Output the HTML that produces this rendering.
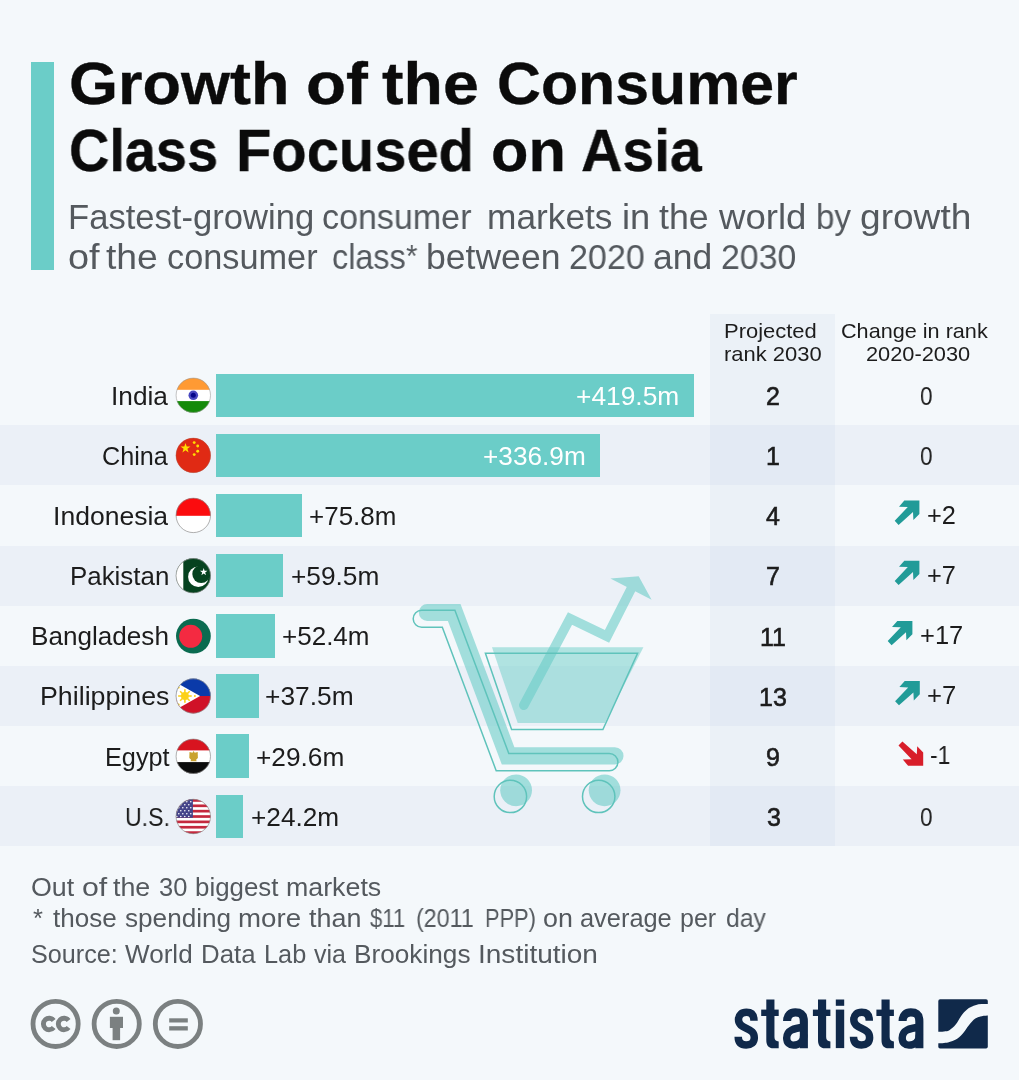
<!DOCTYPE html>
<html lang="en"><head><meta charset="utf-8">
<title>Growth of the Consumer Class Focused on Asia</title>
<style>
html,body{margin:0;padding:0}
body{width:1019px;height:1080px;background:#f4f8fb;position:relative;overflow:hidden;font-family:"Liberation Sans", sans-serif}
.t{position:absolute;white-space:nowrap;line-height:1;transform-origin:0 0;margin:0;will-change:transform}
.rk{color:#1c1c1c;-webkit-text-stroke:0.6px #1c1c1c}
.accent{position:absolute;left:30.5px;top:62px;width:23.5px;height:207.5px;background:#6bcdc8}
.band{position:absolute;left:0;width:1019px;height:60.14px;background:#ebf0f7}
.col{position:absolute;left:710.3px;top:314.4px;width:124.6px;height:532.1px;background:rgba(196,210,232,0.18)}
.bar{position:absolute;left:216px;height:43.3px;background:#6bcdc8}
svg{position:absolute;left:0;top:0}
</style></head><body>
<div class="accent"></div>
<div class="band" style="top:425.37px"></div>
<div class="band" style="top:545.65px"></div>
<div class="band" style="top:665.93px"></div>
<div class="band" style="top:786.21px"></div>
<div class="col"></div>
<div class="bar" style="top:373.65px;width:478.0px"></div>
<div class="bar" style="top:433.79px;width:383.8px"></div>
<div class="bar" style="top:493.93px;width:86.2px"></div>
<div class="bar" style="top:554.07px;width:67.4px"></div>
<div class="bar" style="top:614.21px;width:59.3px"></div>
<div class="bar" style="top:674.35px;width:42.5px"></div>
<div class="bar" style="top:734.49px;width:33.1px"></div>
<div class="bar" style="top:794.63px;width:26.9px"></div>
<svg width="1019" height="1080" viewBox="0 0 1019 1080">
<g id="cart">
<g opacity="0.5"><polygon points="492,647.3 643.4,647.3 604.8,723 517.7,723" fill="#6bcdc8"/></g>
<g opacity="0.6">
<path d="M427.3,604 L460.5,604 L514.4,747.3 L614.9,747.3 A8.6,8.6 0 0 1 614.9,764.5 L501.8,764.5 L447.9,621 L427.3,621 A8.5,8.5 0 0 1 427.3,604 Z" fill="#6bcdc8"/>
<circle cx="516.1" cy="790.3" r="15.9" fill="#6bcdc8"/>
<circle cx="604.6" cy="790.3" r="15.9" fill="#6bcdc8"/>
</g>
<g opacity="0.6">
<polyline points="523.8,705.2 570.0,618.5 607.0,636.4 631,589.1" fill="none" stroke="#6bcdc8" stroke-width="9.6" stroke-linecap="round" stroke-linejoin="miter"/>
<polygon points="610.4,578.5 638.7,576.3 651.6,599.7" fill="#6bcdc8"/>
</g>
<g fill="none" stroke="#5fc3bb" stroke-width="1.5">
<path transform="translate(-5.6,6.2)" d="M427.3,604 L460.5,604 L514.4,747.3 L614.9,747.3 A8.6,8.6 0 0 1 614.9,764.5 L501.8,764.5 L447.9,621 L427.3,621 A8.5,8.5 0 0 1 427.3,604 Z"/>
<polygon points="485.4,653.2 637.6,653.2 602.9,729.6 511.6,729.6"/>
<circle cx="510.4" cy="796.4" r="16.2"/>
<circle cx="598.7" cy="796.4" r="16.2"/>
</g>
</g>

<defs><clipPath id="fc"><circle cx="0" cy="0" r="17.4"/></clipPath></defs>
<g id="flags">
<!-- India -->
<g transform="translate(193.3,395.3)"><g clip-path="url(#fc)">
<rect x="-18" y="-18" width="36" height="36" fill="#ffffff"/>
<rect x="-18" y="-18" width="36" height="12.5" fill="#ff9a33"/>
<rect x="-18" y="5.8" width="36" height="12.5" fill="#148a0a"/>
<circle cx="0" cy="0" r="4.8" fill="#4a49c0"/><circle cx="0" cy="0" r="2.5" fill="#07078a"/>
</g><circle r="17.2" fill="none" stroke="#9a9a9a" stroke-width="0.6"/></g>
<!-- China -->
<g transform="translate(193.3,455.4)"><g clip-path="url(#fc)">
<rect x="-18" y="-18" width="36" height="36" fill="#e02a14"/>
<polygon fill="#ffde00" transform="translate(0.2,0.8)" points="-8.0,-13.2 -6.8,-9.6 -3.0,-9.6 -6.1,-7.4 -4.9,-3.8 -8.0,-6.0 -11.1,-3.8 -9.9,-7.4 -13.0,-9.6 -9.2,-9.6"/>
<circle cx="0.9" cy="-12.8" r="1.45" fill="#ffde00"/><circle cx="4.4" cy="-9.4" r="1.45" fill="#ffde00"/>
<circle cx="4.4" cy="-4.1" r="1.45" fill="#ffde00"/><circle cx="0.9" cy="-0.8" r="1.45" fill="#ffde00"/>
</g><circle r="17.2" fill="none" stroke="#b0503f" stroke-width="0.5"/></g>
<!-- Indonesia -->
<g transform="translate(193.3,515.4)"><g clip-path="url(#fc)">
<rect x="-18" y="-18" width="36" height="36" fill="#ffffff"/>
<rect x="-18" y="-18" width="36" height="18.4" fill="#fb0c0e"/>
</g><circle r="17.2" fill="none" stroke="#8c8c8c" stroke-width="0.7"/></g>
<!-- Pakistan -->
<g transform="translate(193.3,575.7)"><g clip-path="url(#fc)">
<rect x="-18" y="-18" width="36" height="36" fill="#06421f"/>
<rect x="-18" y="-18" width="8.0" height="36" fill="#ffffff"/>
<circle cx="5.0" cy="1.0" r="10.2" fill="#ffffff"/><circle cx="7.9" cy="-1.6" r="8.9" fill="#06421f"/>
<polygon fill="#ffffff" transform="translate(1.8,-0.6) scale(1.15)" transform-origin="8.6 -3.4" points="8.6,-6.6 9.4,-4.2 11.9,-4.2 9.9,-2.7 10.6,-0.3 8.6,-1.8 6.6,-0.3 7.3,-2.7 5.3,-4.2 7.8,-4.2"/>
</g><circle r="17.2" fill="none" stroke="#8c8c8c" stroke-width="0.7"/></g>
<!-- Bangladesh -->
<g transform="translate(193.4,636.1)"><g clip-path="url(#fc)">
<rect x="-18" y="-18" width="36" height="36" fill="#0a6b50"/>
<circle cx="-2.7" cy="0.2" r="11.5" fill="#f42a41"/>
</g></g>
<!-- Philippines -->
<g transform="translate(193.3,696.0)"><g clip-path="url(#fc)">
<rect x="-18" y="-18" width="36" height="18" fill="#0a3aa9"/>
<rect x="-18" y="0" width="36" height="18" fill="#d01228"/>
<polygon points="-18,-14 6.8,0 -18,14" fill="#ffffff"/>
<circle cx="-8.4" cy="0" r="3.9" fill="#fcd116"/>
<g stroke="#fcd116" stroke-width="1.6"><line x1="-15.2" y1="0" x2="-1.6" y2="0"/><line x1="-8.4" y1="-6.8" x2="-8.4" y2="6.8"/><line x1="-13.2" y1="-4.8" x2="-3.6" y2="4.8"/><line x1="-13.2" y1="4.8" x2="-3.6" y2="-4.8"/></g>
<circle cx="1.6" cy="0" r="1" fill="#fcd116"/><circle cx="-14.6" cy="-8.6" r="1" fill="#fcd116"/><circle cx="-14.6" cy="8.6" r="1" fill="#fcd116"/>
</g><circle r="17.2" fill="none" stroke="#8c8c8c" stroke-width="0.7"/></g>
<!-- Egypt -->
<g transform="translate(193.3,756.3)"><g clip-path="url(#fc)">
<rect x="-18" y="-18" width="36" height="36" fill="#ffffff"/>
<rect x="-18" y="-18" width="36" height="12.1" fill="#d8141f"/>
<rect x="-18" y="5.8" width="36" height="12.5" fill="#0c0c0c"/>
<path d="M0.3,-5.2 L1.4,-3.6 L4.4,-4.2 L4.6,1.6 L2.8,3.4 L3.4,5 L-2.8,5 L-2.2,3.4 L-4.0,1.6 L-3.8,-4.2 L-0.8,-3.6 Z" fill="#c9a22f"/>
</g><circle r="17.2" fill="none" stroke="#8c8c8c" stroke-width="0.7"/></g>
<!-- US -->
<g transform="translate(193.3,816.5)"><g clip-path="url(#fc)">
<rect x="-18" y="-18" width="36" height="36" fill="#ffffff"/>
<g fill="#c4283e"><rect x="-18" y="-17.4" width="36" height="2.68"/><rect x="-18" y="-12.04" width="36" height="2.68"/><rect x="-18" y="-6.68" width="36" height="2.68"/><rect x="-18" y="-1.32" width="36" height="2.68"/><rect x="-18" y="4.04" width="36" height="2.68"/><rect x="-18" y="9.4" width="36" height="2.68"/><rect x="-18" y="14.76" width="36" height="2.68"/></g>
<rect x="-18" y="-18" width="17.6" height="19.3" fill="#45448a"/>
<g fill="#ffffff">
<circle cx="-14.5" cy="-14.8" r="0.8"/><circle cx="-10.5" cy="-14.8" r="0.8"/><circle cx="-6.5" cy="-14.8" r="0.8"/><circle cx="-2.5" cy="-14.8" r="0.8"/>
<circle cx="-12.5" cy="-11.8" r="0.8"/><circle cx="-8.5" cy="-11.8" r="0.8"/><circle cx="-4.5" cy="-11.8" r="0.8"/>
<circle cx="-16.5" cy="-8.8" r="0.8"/><circle cx="-14.5" cy="-8.8" r="0.8"/><circle cx="-10.5" cy="-8.8" r="0.8"/><circle cx="-6.5" cy="-8.8" r="0.8"/><circle cx="-2.5" cy="-8.8" r="0.8"/>
<circle cx="-16.5" cy="-5.8" r="0.8"/><circle cx="-12.5" cy="-5.8" r="0.8"/><circle cx="-8.5" cy="-5.8" r="0.8"/><circle cx="-4.5" cy="-5.8" r="0.8"/>
<circle cx="-14.5" cy="-2.8" r="0.8"/><circle cx="-10.5" cy="-2.8" r="0.8"/><circle cx="-6.5" cy="-2.8" r="0.8"/><circle cx="-2.5" cy="-2.8" r="0.8"/>
<circle cx="-16.5" cy="0" r="0.8"/><circle cx="-12.5" cy="0" r="0.8"/><circle cx="-8.5" cy="0" r="0.8"/><circle cx="-4.5" cy="0" r="0.8"/>
</g>
</g><circle r="17.2" fill="none" stroke="#8c8c8c" stroke-width="0.7"/></g>
</g>

<polygon points="919.4,500.6 919.4,513.9 913.4,520.0 913.0,512.0 898.6,524.9 894.7,520.8 907.8,507.0 899.0,506.7 904.3,500.6" fill="#219b98"/>
<polygon points="919.4,560.7 919.4,574.0 913.4,580.1 913.0,572.1 898.6,585.0 894.7,580.9 907.8,567.1 899.0,566.8 904.3,560.7" fill="#219b98"/>
<polygon points="912.4,620.9 912.4,634.2 906.4,640.3 906.0,632.3 891.6,645.2 887.7,641.1 900.8,627.3 892.0,627.0 897.3,620.9" fill="#219b98"/>
<polygon points="919.8,681.0 919.8,694.3 913.8,700.4 913.4,692.4 899.0,705.3 895.1,701.2 908.2,687.4 899.4,687.1 904.7,681.0" fill="#219b98"/>
<polygon points="923.2,765.7 923.2,752.4 917.2,746.3 916.8,754.3 902.4,741.4 898.5,745.5 911.6,759.3 902.8,759.6 908.1,765.7" fill="#d81e2a"/>
<g id="cc" fill="none" stroke="#7b8081" stroke-width="4.8">
<circle cx="55.6" cy="1023.9" r="22.6"/><circle cx="116.7" cy="1023.9" r="22.6"/><circle cx="177.9" cy="1023.9" r="22.6"/>
</g>
<g fill="none" stroke="#7b8081" stroke-width="4.9">
<path d="M53.68,1020.41 A5.75,5.75 0 1 0 53.68,1027.49"/>
<path d="M68.58,1020.41 A5.75,5.75 0 1 0 68.58,1027.49"/>
</g>
<g fill="#7b8081">
<circle cx="116.3" cy="1011.1" r="3.5"/>
<rect x="109.9" y="1016.8" width="13.1" height="11.2"/>
<rect x="112.6" y="1027" width="7.5" height="13.2"/>
<rect x="169.2" y="1018.3" width="18.6" height="4.2"/>
<rect x="169.2" y="1026.2" width="18.6" height="4.3"/>
</g>
<g id="statista">
<rect x="938.3" y="999.3" width="49.5" height="49.3" rx="1.8" fill="#10294a"/>
<path d="M937.5,1031.8 C938.6,1031.7 942.0,1031.7 944.0,1031.4 C946.0,1031.1 947.4,1031.4 949.4,1030.2 C951.4,1029.0 953.7,1027.0 955.9,1024.3 C958.1,1021.6 960.2,1017.0 962.4,1014.3 C964.6,1011.6 966.8,1009.6 968.9,1008.1 C971.0,1006.6 973.1,1005.9 975.3,1005.2 C977.4,1004.5 979.6,1004.3 981.8,1004.1 C984.0,1003.9 987.5,1003.9 988.6,1003.9 L988.6,1015.6 C987.5,1015.7 984.0,1015.7 981.8,1016.2 C979.6,1016.7 977.4,1017.0 975.3,1018.5 C973.1,1020.0 971.0,1022.7 968.9,1025.3 C966.8,1027.9 964.6,1031.6 962.4,1034.0 C960.2,1036.4 958.1,1038.2 955.9,1039.5 C953.7,1040.8 951.4,1041.5 949.4,1042.1 C947.4,1042.7 946.0,1042.9 944.0,1043.1 C942.0,1043.3 938.6,1043.4 937.5,1043.4 Z" fill="#f4f8fb"/>
<path transform="translate(734.6,0)" d="M19.4,1020.8 C19.4,1014.8 16.6,1012.3 11.8,1012.3 C7,1012.3 3.9,1014.9 3.9,1019.6 C3.9,1024.6 7.6,1026.4 11.8,1028.4 C16.6,1030.6 19.7,1032.6 19.7,1037.8 C19.7,1042.6 16.5,1045.1 11.6,1045.1 C6.4,1045.1 3.7,1042.4 3.6,1036.8" fill="none" stroke="#10294a" stroke-width="7.5"/>
<g transform="translate(761.2,0)"><rect x="0" y="1009.6" width="17.5" height="6.4" fill="#10294a"/><path d="M5.1,999.5 L13.25,999.5 L13.25,1037 Q13.25,1041.4 17.5,1041.4 L17.5,1048.3 L12.2,1048.3 C7.4,1048.3 5.1,1045.4 5.1,1040 Z" fill="#10294a"/></g>
<g transform="translate(782.8,0)" fill="none" stroke="#10294a"><path d="M4.3,1021 C4.3,1014.8 7.8,1012.4 12.5,1012.4 C18,1012.4 21.05,1015 21.05,1021.5 L21.05,1048.2" stroke-width="8.1"/><path d="M21.05,1027.3 C11.5,1028.3 3.9,1030 3.9,1038 C3.9,1042.8 6.8,1045.1 10.6,1045.1 C16,1045.1 21.05,1041.5 21.05,1034.5" stroke-width="7.4"/></g>
<g transform="translate(812.9,0)"><rect x="0" y="1009.6" width="17.5" height="6.4" fill="#10294a"/><path d="M5.1,999.5 L13.25,999.5 L13.25,1037 Q13.25,1041.4 17.5,1041.4 L17.5,1048.3 L12.2,1048.3 C7.4,1048.3 5.1,1045.4 5.1,1040 Z" fill="#10294a"/></g>
<g transform="translate(835.8,0)" fill="#10294a"><rect x="0" y="999.5" width="8.4" height="6.3"/><rect x="0" y="1009.6" width="8.4" height="38.5"/></g>
<path transform="translate(849.9,0)" d="M19.4,1020.8 C19.4,1014.8 16.6,1012.3 11.8,1012.3 C7,1012.3 3.9,1014.9 3.9,1019.6 C3.9,1024.6 7.6,1026.4 11.8,1028.4 C16.6,1030.6 19.7,1032.6 19.7,1037.8 C19.7,1042.6 16.5,1045.1 11.6,1045.1 C6.4,1045.1 3.7,1042.4 3.6,1036.8" fill="none" stroke="#10294a" stroke-width="7.5"/>
<g transform="translate(876.4,0)"><rect x="0" y="1009.6" width="17.5" height="6.4" fill="#10294a"/><path d="M5.1,999.5 L13.25,999.5 L13.25,1037 Q13.25,1041.4 17.5,1041.4 L17.5,1048.3 L12.2,1048.3 C7.4,1048.3 5.1,1045.4 5.1,1040 Z" fill="#10294a"/></g>
<g transform="translate(898.3,0)" fill="none" stroke="#10294a"><path d="M4.3,1021 C4.3,1014.8 7.8,1012.4 12.5,1012.4 C18,1012.4 21.05,1015 21.05,1021.5 L21.05,1048.2" stroke-width="8.1"/><path d="M21.05,1027.3 C11.5,1028.3 3.9,1030 3.9,1038 C3.9,1042.8 6.8,1045.1 10.6,1045.1 C16,1045.1 21.05,1041.5 21.05,1034.5" stroke-width="7.4"/></g>
</g>

</svg>
<div class="t" style="left:68.68px;top:54.43px;font-size:59.50px;font-weight:bold;color:#0b0b0b;transform:scaleX(1.0583);-webkit-text-stroke:0.35px #0b0b0b;">Growth</div>
<div class="t" style="left:305.50px;top:54.43px;font-size:59.50px;font-weight:bold;color:#0b0b0b;transform:scaleX(1.1022);-webkit-text-stroke:0.35px #0b0b0b;">of</div>
<div class="t" style="left:382.30px;top:54.43px;font-size:59.50px;font-weight:bold;color:#0b0b0b;transform:scaleX(1.0844);-webkit-text-stroke:0.35px #0b0b0b;">the</div>
<div class="t" style="left:497.06px;top:54.43px;font-size:59.50px;font-weight:bold;color:#0b0b0b;transform:scaleX(1.0219);-webkit-text-stroke:0.35px #0b0b0b;">Consumer</div>
<div class="t" style="left:68.92px;top:120.53px;font-size:59.50px;font-weight:bold;color:#0b0b0b;transform:scaleX(0.9387);-webkit-text-stroke:0.35px #0b0b0b;">Class</div>
<div class="t" style="left:235.88px;top:120.53px;font-size:59.50px;font-weight:bold;color:#0b0b0b;transform:scaleX(0.9727);-webkit-text-stroke:0.35px #0b0b0b;">Focused</div>
<div class="t" style="left:490.94px;top:120.53px;font-size:59.50px;font-weight:bold;color:#0b0b0b;transform:scaleX(1.0290);-webkit-text-stroke:0.35px #0b0b0b;">on</div>
<div class="t" style="left:580.94px;top:120.53px;font-size:59.50px;font-weight:bold;color:#0b0b0b;transform:scaleX(0.9611);-webkit-text-stroke:0.35px #0b0b0b;">Asia</div>
<div class="t" style="left:68.28px;top:199.97px;font-size:34.30px;color:#54595e;transform:scaleX(1.0091);">Fastest-growing</div>
<div class="t" style="left:322.01px;top:199.97px;font-size:34.30px;color:#54595e;transform:scaleX(0.9922);">consumer</div>
<div class="t" style="left:487.04px;top:199.97px;font-size:34.30px;color:#54595e;transform:scaleX(1.0285);">markets</div>
<div class="t" style="left:622.09px;top:199.97px;font-size:34.30px;color:#54595e;transform:scaleX(1.0566);">in</div>
<div class="t" style="left:659.30px;top:199.97px;font-size:34.30px;color:#54595e;transform:scaleX(1.0428);">the</div>
<div class="t" style="left:719.17px;top:199.97px;font-size:34.30px;color:#54595e;transform:scaleX(1.0670);">world</div>
<div class="t" style="left:816.17px;top:199.97px;font-size:34.30px;color:#54595e;transform:scaleX(0.9665);">by</div>
<div class="t" style="left:860.12px;top:199.97px;font-size:34.30px;color:#54595e;transform:scaleX(1.0814);">growth</div>
<div class="t" style="left:68.10px;top:240.47px;font-size:34.30px;color:#54595e;transform:scaleX(1.1042);">of</div>
<div class="t" style="left:105.50px;top:240.47px;font-size:34.30px;color:#54595e;transform:scaleX(1.0879);">the</div>
<div class="t" style="left:166.90px;top:240.47px;font-size:34.30px;color:#54595e;transform:scaleX(0.9976);">consumer</div>
<div class="t" style="left:332.06px;top:240.47px;font-size:34.30px;color:#54595e;transform:scaleX(0.9435);">class</div>
<div class="t" style="left:425.53px;top:240.47px;font-size:34.30px;color:#54595e;transform:scaleX(1.0367);">between</div>
<div class="t" style="left:568.51px;top:240.47px;font-size:34.30px;color:#54595e;transform:scaleX(0.9930);">2020</div>
<div class="t" style="left:653.27px;top:240.47px;font-size:34.30px;color:#54595e;transform:scaleX(1.0342);">and</div>
<div class="t" style="left:721.11px;top:240.47px;font-size:34.30px;color:#54595e;transform:scaleX(0.9862);">2030</div>
<div class="t" style="left:406.40px;top:241.26px;font-size:31.00px;color:#54595e;transform:scaleX(0.9500);">*</div>
<div class="t" style="left:723.75px;top:320.02px;font-size:21.00px;color:#1c1c1c;transform:scaleX(1.0455);">Projected</div>
<div class="t" style="left:724.15px;top:343.02px;font-size:21.00px;color:#1c1c1c;transform:scaleX(1.0466);">rank 2030</div>
<div class="t" style="left:840.77px;top:320.02px;font-size:21.00px;color:#1c1c1c;transform:scaleX(1.0301);">Change in rank</div>
<div class="t" style="left:865.76px;top:343.02px;font-size:21.00px;color:#1c1c1c;transform:scaleX(1.0380);">2020-2030</div>
<div class="t" style="left:111.30px;top:383.69px;font-size:25.00px;color:#1c1c1c;transform:scaleX(1.0496);">India</div>
<div class="t" style="left:576.35px;top:383.69px;font-size:25.00px;color:#ffffff;transform:scaleX(1.0534);">+419.5m</div>
<div class="t" style="left:920.20px;top:383.84px;font-size:25.00px;color:#1c1c1c;transform:scaleX(0.9000);">0</div>
<div class="t" style="left:102.39px;top:443.83px;font-size:25.00px;color:#1c1c1c;transform:scaleX(1.0075);">China</div>
<div class="t" style="left:483.15px;top:443.83px;font-size:25.00px;color:#ffffff;transform:scaleX(1.0482);">+336.9m</div>
<div class="t" style="left:920.20px;top:443.98px;font-size:25.00px;color:#1c1c1c;transform:scaleX(0.9000);">0</div>
<div class="t" style="left:53.08px;top:503.97px;font-size:25.00px;color:#1c1c1c;transform:scaleX(1.0618);">Indonesia</div>
<div class="t" style="left:309.46px;top:503.97px;font-size:25.00px;color:#1c1c1c;transform:scaleX(1.0394);">+75.8m</div>
<div class="t" style="left:927.08px;top:502.87px;font-size:25.00px;color:#1c1c1c;transform:scaleX(1.0151);">+2</div>
<div class="t" style="left:69.93px;top:564.11px;font-size:25.00px;color:#1c1c1c;transform:scaleX(1.0357);">Pakistan</div>
<div class="t" style="left:290.55px;top:564.11px;font-size:25.00px;color:#1c1c1c;transform:scaleX(1.0504);">+59.5m</div>
<div class="t" style="left:927.08px;top:563.01px;font-size:25.00px;color:#1c1c1c;transform:scaleX(1.0151);">+7</div>
<div class="t" style="left:31.31px;top:624.25px;font-size:25.00px;color:#1c1c1c;transform:scaleX(1.0445);">Bangladesh</div>
<div class="t" style="left:282.26px;top:624.25px;font-size:25.00px;color:#1c1c1c;transform:scaleX(1.0406);">+52.4m</div>
<div class="t" style="left:919.88px;top:623.15px;font-size:25.00px;color:#1c1c1c;transform:scaleX(1.0197);">+17</div>
<div class="t" style="left:39.86px;top:684.39px;font-size:25.00px;color:#1c1c1c;transform:scaleX(1.0708);">Philippines</div>
<div class="t" style="left:264.55px;top:684.39px;font-size:25.00px;color:#1c1c1c;transform:scaleX(1.0540);">+37.5m</div>
<div class="t" style="left:927.07px;top:683.29px;font-size:25.00px;color:#1c1c1c;transform:scaleX(1.0263);">+7</div>
<div class="t" style="left:104.58px;top:744.53px;font-size:25.00px;color:#1c1c1c;transform:scaleX(1.0100);">Egypt</div>
<div class="t" style="left:256.15px;top:744.53px;font-size:25.00px;color:#1c1c1c;transform:scaleX(1.0504);">+29.6m</div>
<div class="t" style="left:929.68px;top:742.73px;font-size:25.00px;color:#1c1c1c;transform:scaleX(0.9200);">-1</div>
<div class="t" style="left:125.08px;top:804.67px;font-size:25.00px;color:#1c1c1c;transform:scaleX(0.9239);">U.S.</div>
<div class="t" style="left:250.55px;top:804.67px;font-size:25.00px;color:#1c1c1c;transform:scaleX(1.0492);">+24.2m</div>
<div class="t" style="left:920.20px;top:805.17px;font-size:25.00px;color:#1c1c1c;transform:scaleX(0.9000);">0</div>
<div class="t" style="left:30.83px;top:875.44px;font-size:25.00px;color:#54595e;transform:scaleX(1.0724);">Out</div>
<div class="t" style="left:81.69px;top:875.44px;font-size:25.00px;color:#54595e;transform:scaleX(1.2108);">of</div>
<div class="t" style="left:113.30px;top:875.44px;font-size:25.00px;color:#54595e;transform:scaleX(1.0724);">the</div>
<div class="t" style="left:158.50px;top:875.44px;font-size:25.00px;color:#54595e;transform:scaleX(1.0184);">30</div>
<div class="t" style="left:194.77px;top:875.44px;font-size:25.00px;color:#54595e;transform:scaleX(1.0343);">biggest</div>
<div class="t" style="left:286.13px;top:875.44px;font-size:25.00px;color:#54595e;transform:scaleX(1.0709);">markets</div>
<div class="t" style="left:32.90px;top:905.74px;font-size:25.00px;color:#54595e;transform:scaleX(1.0200);">*</div>
<div class="t" style="left:52.50px;top:905.74px;font-size:25.00px;color:#54595e;transform:scaleX(1.0423);">those</div>
<div class="t" style="left:125.10px;top:905.74px;font-size:25.00px;color:#54595e;transform:scaleX(1.0460);">spending</div>
<div class="t" style="left:238.39px;top:905.74px;font-size:25.00px;color:#54595e;transform:scaleX(1.1062);">more</div>
<div class="t" style="left:308.80px;top:905.74px;font-size:25.00px;color:#54595e;transform:scaleX(1.0764);">than</div>
<div class="t" style="left:370.10px;top:905.74px;font-size:25.00px;color:#54595e;transform:scaleX(0.8806);">$11</div>
<div class="t" style="left:415.87px;top:905.74px;font-size:25.00px;color:#54595e;transform:scaleX(0.9289);">(2011</div>
<div class="t" style="left:484.76px;top:905.74px;font-size:25.00px;color:#54595e;transform:scaleX(0.8723);">PPP)</div>
<div class="t" style="left:542.93px;top:905.74px;font-size:25.00px;color:#54595e;transform:scaleX(1.0732);">on</div>
<div class="t" style="left:580.48px;top:905.74px;font-size:25.00px;color:#54595e;transform:scaleX(1.0154);">average</div>
<div class="t" style="left:680.10px;top:905.74px;font-size:25.00px;color:#54595e;transform:scaleX(0.9969);">per</div>
<div class="t" style="left:726.21px;top:905.74px;font-size:25.00px;color:#54595e;transform:scaleX(0.9872);">day</div>
<div class="t" style="left:30.89px;top:941.54px;font-size:25.00px;color:#54595e;transform:scaleX(1.0071);">Source:</div>
<div class="t" style="left:125.10px;top:941.54px;font-size:25.00px;color:#54595e;transform:scaleX(1.0434);">World</div>
<div class="t" style="left:200.53px;top:941.54px;font-size:25.00px;color:#54595e;transform:scaleX(1.0333);">Data</div>
<div class="t" style="left:264.37px;top:941.54px;font-size:25.00px;color:#54595e;transform:scaleX(1.0127);">Lab</div>
<div class="t" style="left:313.70px;top:941.54px;font-size:25.00px;color:#54595e;transform:scaleX(0.9921);">via</div>
<div class="t" style="left:353.80px;top:941.54px;font-size:25.00px;color:#54595e;transform:scaleX(1.0481);">Brookings</div>
<div class="t" style="left:478.36px;top:941.54px;font-size:25.00px;color:#54595e;transform:scaleX(1.1210);">Institution</div>
<div class="t rk" style="left:766.20px;top:383.99px;font-size:25.00px;transform:scaleX(1.000)">2</div>
<div class="t rk" style="left:766.20px;top:444.13px;font-size:25.00px;transform:scaleX(1.000)">1</div>
<div class="t rk" style="left:766.20px;top:504.27px;font-size:25.00px;transform:scaleX(1.000)">4</div>
<div class="t rk" style="left:766.20px;top:564.41px;font-size:25.00px;transform:scaleX(1.000)">7</div>
<div class="t rk" style="left:760.18px;top:624.55px;font-size:25.00px;transform:scaleX(1.000)">11</div>
<div class="t rk" style="left:759.25px;top:684.69px;font-size:25.00px;transform:scaleX(1.000)">13</div>
<div class="t rk" style="left:766.20px;top:744.83px;font-size:25.00px;transform:scaleX(1.000)">9</div>
<div class="t rk" style="left:766.70px;top:804.97px;font-size:25.00px;transform:scaleX(1.000)">3</div>
</body></html>
